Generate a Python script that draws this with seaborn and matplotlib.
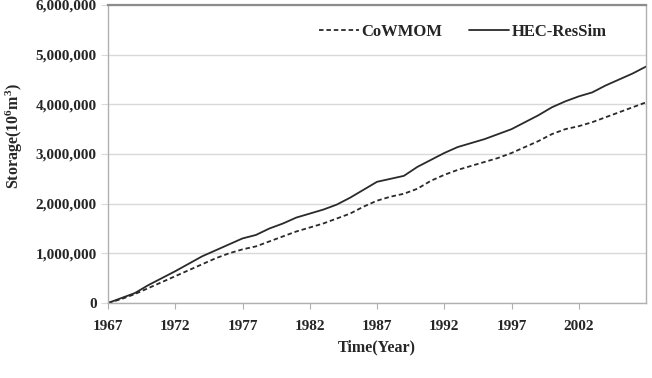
import numpy as np
import pandas as pd
import seaborn as sns
from matplotlib import pyplot as plt
from matplotlib.ticker import FuncFormatter

years = list(range(1967, 2008))

# storage in million m3 (values in units of 10^6)
hec_ressim = [0.00, 0.10, 0.20, 0.36, 0.50, 0.64, 0.79, 0.94, 1.06, 1.18,
              1.30, 1.37, 1.50, 1.60, 1.72, 1.80, 1.88, 1.98, 2.12, 2.28,
              2.44, 2.50, 2.56, 2.74, 2.88, 3.02, 3.14, 3.22, 3.30, 3.40,
              3.50, 3.64, 3.78, 3.94, 4.06, 4.16, 4.24, 4.38, 4.50, 4.62,
              4.76]
cowmom = [0.00, 0.08, 0.18, 0.30, 0.42, 0.54, 0.66, 0.78, 0.90, 1.00,
          1.08, 1.14, 1.24, 1.34, 1.44, 1.52, 1.60, 1.70, 1.80, 1.94,
          2.06, 2.14, 2.20, 2.30, 2.46, 2.58, 2.68, 2.76, 2.84, 2.92,
          3.02, 3.14, 3.26, 3.40, 3.50, 3.56, 3.64, 3.74, 3.84, 3.94,
          4.04]
series_names = ['CoWMOM', 'HEC-ResSim']
x_ticks = list(range(1967, 2003, 5))
y_ticks = [0, 1000000, 2000000, 3000000, 4000000, 5000000, 6000000]

df = pd.DataFrame({'year': years * 2,
                   'storage': np.array(cowmom + hec_ressim) * 1e6,
                   'model': [series_names[0]] * len(years) + [series_names[1]] * len(years)})

sns.set_style('white')
plt.rcParams['font.family'] = ['Liberation Serif', 'DejaVu Serif']
plt.rcParams['font.weight'] = 'bold'
plt.rcParams['mathtext.fontset'] = 'custom'
plt.rcParams['mathtext.rm'] = 'Liberation Serif:bold'
plt.rcParams['mathtext.it'] = 'Liberation Serif:bold'
plt.rcParams['mathtext.bf'] = 'Liberation Serif:bold'

fig = plt.figure(figsize=(6.52, 3.78), dpi=100)
ax = fig.add_axes([108 / 652, 1 - 303 / 378, (646 - 108) / 652, (303 - 5) / 378])

sns.lineplot(data=df, x='year', y='storage', hue='model', style='model',
             palette={'CoWMOM': '#2a2a2a', 'HEC-ResSim': '#2a2a2a'},
             dashes={'CoWMOM': (2.5, 1.6), 'HEC-ResSim': ''},
             linewidth=1.3, ax=ax)

ax.set_xlim(1967, 2007)
ax.set_ylim(0, 6000000)
ax.set_xticks(x_ticks)
ax.set_yticks(y_ticks)
ax.yaxis.set_major_formatter(FuncFormatter(lambda v, p: '{:,.0f}'.format(v)))
ax.grid(axis='y', color='#d9d9d9', linewidth=1)
ax.set_axisbelow(True)

for s in ['left', 'bottom', 'right']:
    ax.spines[s].set_color('#b0b0b0')
    ax.spines[s].set_linewidth(1)
ax.spines['top'].set_color('#8c8c8c')
ax.spines['top'].set_linewidth(1.6)

ax.tick_params(axis='x', direction='out', length=4, color='#b0b0b0', labelsize=11, pad=8, bottom=True)
ax.tick_params(axis='y', direction='out', length=5, color='#d9d9d9', labelsize=11, pad=3, left=True)
for lab in ax.get_xticklabels() + ax.get_yticklabels():
    lab.set_fontweight('bold')

ax.set_xlabel('Time(Year)', fontsize=11.5, fontweight='bold', labelpad=5)
ax.set_ylabel('Storage(10$^{6}$m$^{3}$)', fontsize=11.5, fontweight='bold')
ax.yaxis.set_label_coords(-0.155, 0.56)

leg = ax.legend(loc='center', bbox_to_anchor=(0.66, 0.91), ncol=2, frameon=False,
                handlelength=2.4, handletextpad=0.15, columnspacing=1.6,
                prop={'size': 12, 'weight': 'bold'})
for line in leg.get_lines():
    line.set_linewidth(1.3)

plt.savefig('out.png', dpi=100)
